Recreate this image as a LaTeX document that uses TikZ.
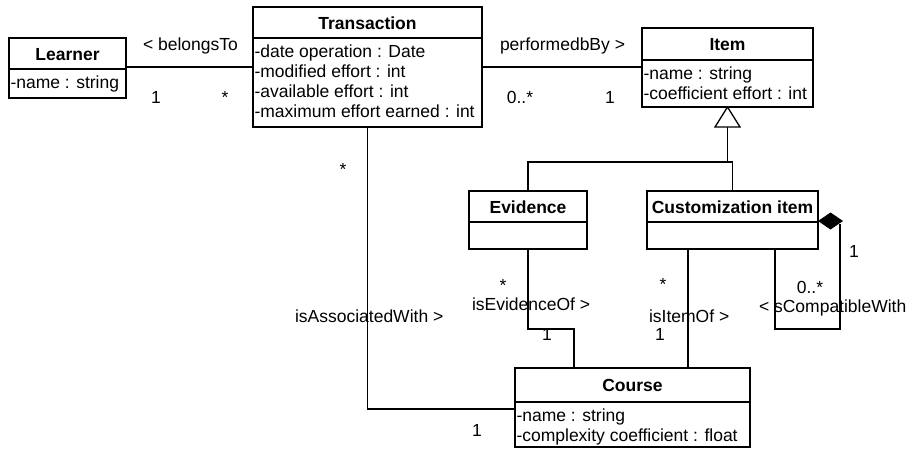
\documentclass[tikz,border=0pt]{standalone}
\usepackage{fontspec}
\setmainfont{Liberation Sans}
\begin{document}
\begin{tikzpicture}[x=1pt,y=-1pt,
  every node/.style={inner sep=0pt, outer sep=0pt},
  cls/.style={draw, line width=1.8pt, fill=white, rectangle},
  ttl/.style={font=\fontsize{17.5}{20}\selectfont\bfseries, anchor=base},
  attr/.style={font=\fontsize{17.5}{20}\selectfont, anchor=base west},
  lbl/.style={font=\fontsize{17.5}{20}\selectfont, anchor=base west},
  mult/.style={font=\fontsize{17.5}{20}\selectfont, anchor=base},
  conn/.style={line width=1.3pt},
  divl/.style={line width=1.6pt}]
\useasboundingbox (0,0) rectangle (909,448);

\coordinate (selfA) at (840,224);

% class boxes
\node[cls, minimum width=117pt, minimum height=60pt] (learner) at (67.5,68) {};
\node[cls, minimum width=229pt, minimum height=120pt] (transaction) at (367.5,67) {};
\node[cls, minimum width=171pt, minimum height=79pt] (item) at (727.5,67.5) {};
\node[cls, minimum width=118pt, minimum height=58pt] (evidence) at (528,220) {};
\node[cls, minimum width=171pt, minimum height=58pt] (custom) at (732.5,220) {};
\node[cls, minimum width=235pt, minimum height=79pt] (course) at (632.5,407.5) {};

% dividers
\draw[divl] (learner.west |- 0,69) -- (learner.east |- 0,69);
\draw[divl] (transaction.west |- 0,38) -- (transaction.east |- 0,38);
\draw[divl] (item.west |- 0,60) -- (item.east |- 0,60);
\draw[divl] (evidence.west |- 0,222) -- (evidence.east |- 0,222);
\draw[divl] (custom.west |- 0,222) -- (custom.east |- 0,222);
\draw[divl] (course.west |- 0,402) -- (course.east |- 0,402);

% titles
\node[ttl] (learnerT) at (67.5,60) {Learner};
\node[ttl] (transactionT) at (367.5,29) {Transaction};
\node[ttl] (itemT) at (727.5,50) {Item};
\node[ttl] (evidenceT) at (528,213) {Evidence};
\node[ttl] (customT) at (732.5,213) {Customization item};
\node[ttl] (courseT) at (632.5,391.5) {Course};

% attributes
\node[attr] (la1) at (10.5,88) {-name : string};
\node[attr] (ta1) at (254.5,57) {-date operation : Date};
\node[attr] (ta2) at (254.5,77) {-modified effort : int};
\node[attr] (ta3) at (254.5,97) {-available effort : int};
\node[attr] (ta4) at (254.5,117) {-maximum effort earned : int};
\node[attr] (ia1) at (643.5,79) {-name : string};
\node[attr] (ia2) at (643.5,99) {-coefficient effort : int};
\node[attr] (ca1) at (516.5,421) {-name : string};
\node[attr] (ca2) at (516.5,441) {-complexity coefficient : float};

% associations
\draw[conn] (learner.east |- 0,67) -- (transaction.west |- 0,67);
\draw[conn] (transaction.east |- 0,67) -- (item.west |- 0,67);
\draw[conn] (transaction.south) |- (course.west |- 0,409);
\draw[conn] (evidence.south) |- (574,329) -- (574,329 |- course.north);
\draw[conn] (custom.south -| 688,0) -- (course.north -| 688,0);

% generalization
\draw[conn] (item.south |- 0,127) -- (item.south |- 0,162);
\draw[conn] (evidence.north) |- (custom.north |- 0,162) -- (custom.north);
\draw[line width=1.3pt, fill=white] (item.south) -- ++(-12.5,20) -- ++(25,0) -- cycle;

% self composition
\draw[conn] (selfA) |- (775,329) -- (775,329 |- custom.south);
\fill (custom.east |- 0,221) -- ++(12.5,-8.5) -- ++(12.5,8.5) -- ++(-12.5,8.5) -- cycle;

% labels
\node[lbl] (belongs) at (143,50) {< belongsTo};
\node[mult] (m1) at (156,103) {1};
\node[mult] (m2) at (225,103) {*};
\node[lbl] (performed) at (500,50) {performedbBy >};
\node[mult] (m3) at (520,103) {0..*};
\node[mult] (m4) at (610,103) {1};
\node[mult] (m5) at (343,175) {*};
\node[lbl] (assoc) at (295,322) {isAssociatedWith >};
\node[mult] (m6) at (477,436) {1};
\node[mult] (m7) at (503,291) {*};
\node[lbl] (evid) at (472,310) {isEvidenceOf >};
\node[mult] (m8) at (547,340) {1};
\node[mult] (m9) at (663,290) {*};
\node[lbl] (itemof) at (649,322) {isItemOf >};
\node[mult] (m10) at (660,340) {1};
\node[mult] (m11) at (854,257) {1};
\node[mult] (m12) at (810,293) {0..*};
\node[lbl] (compat) at (759,312) {< sCompatibleWith};
\end{tikzpicture}
\end{document}
